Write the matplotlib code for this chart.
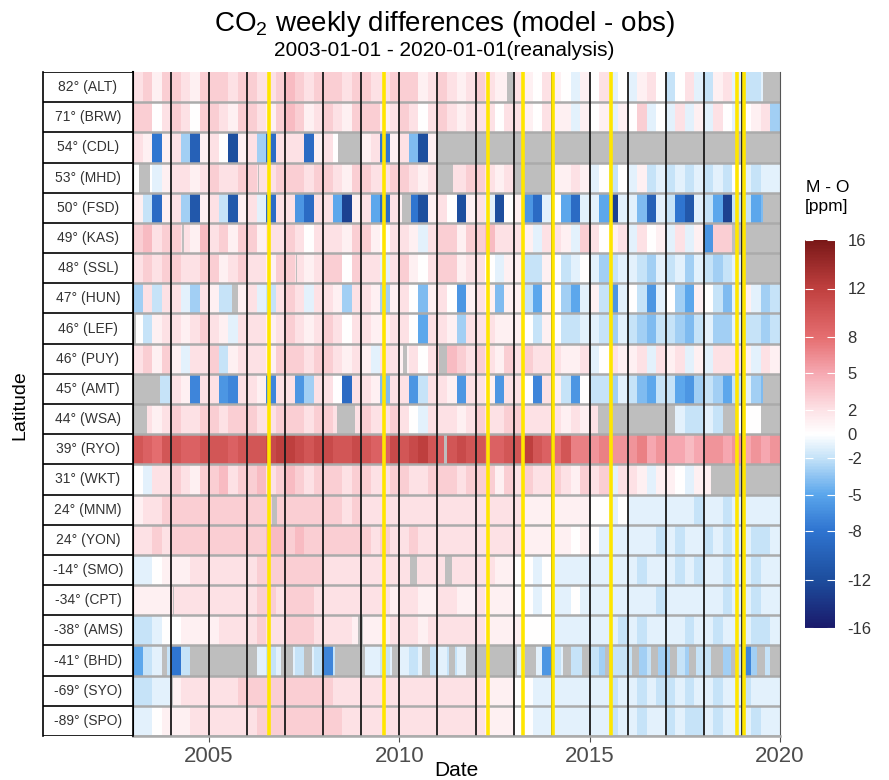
import numpy as np
import matplotlib.pyplot as plt
from matplotlib.colors import LinearSegmentedColormap

plt.rcParams['font.family'] = ['Liberation Sans', 'DejaVu Sans']
plt.rcParams['mathtext.fontset'] = 'custom'
plt.rcParams['mathtext.rm'] = 'Liberation Sans'
plt.rcParams['axes.unicode_minus'] = False

N = None
# quarterly model - obs [ppm], 2003Q1 ... 2019Q4
ALT = [2,3,1,3, 3,2,1,3, 3,3,2,3, 3,2,2,3, 4,3,2,3, 3,3,2,3, 3,2,2,3, 3,3,1,2, 3,2,1,2,
       3,2,1,1, 2,1,0,2, 1,0,-1,1, 0,2,-1,0, -1,1,2,0, -2,0,2,-1, -2,1,2,-1, -2,-2,-1,N]
BRW = [3,3,0,2, 3,2,0,3, 3,2,1,3, 3,2,1,3, 4,3,1,2, 3,2,1,3, 3,3,1,2, 3,2,0,2, 3,2,1,2,
       2,2,0,2, 2,1,0,2, 1,1,-1,1, 0,1,-1,1, 0,3,-1,0, -1,2,-1,1, -1,2,0,-1, 0,1,2,-3]
CDL = [2,1,-8,1, 2,-3,-10,1, 2,0,-12,1, 2,-3,-9,2, 2,2,-9,1, 2,0,N,N, 1,2,-8,1, 2,-4,-12,1, N,N,N,N,
       N,N,N,N, N,N,N,N, N,N,N,N, N,N,N,N, N,N,N,N, N,N,N,N, N,N,N,N, N,N,N,N]
MHD = [0,0,-1,1, 2,2,1,2, 3,2,2,3, 3,2,2,3, 3,3,2,3, 3,2,1,3, 3,2,2,3, 3,2,1,2, N,2,2,3,
       3,2,1,2, 2,N,N,N, 1,1,2,1, -1,0,-2,0, -1,1,-2,-1, -2,-1,-2,-1, -2,-1,-2,0, -1,-2,-1,-1]
FSD = [1,-2,-9,1, 2,-3,-11,1, 2,-2,-11,1, 2,-1,-9,2, 2,-6,-9,2, 2,-5,-13,1, 2,-5,-9,2, 1,-8,-12,1, 2,0,-12,1,
       2,-1,-12,0, 1,-6,-9,-1, 0,-5,-9,-1, -1,-5,-13,-1, -1,-4,-10,-1, -2,-8,-11,-1, -2,-5,-13,-2, -2,-5,-4,N]
KAS = [3,4,2,3, 3,2,1,4, 2,3,1,3, 3,1,2,2, 3,2,0,2, 2,2,1,3, 3,1,0,2, 2,1,-1,2, 3,3,1,3,
       3,4,2,2, 2,1,-1,2, 2,1,-1,3, 2,0,1,2, -1,2,0,1, -1,2,-1,1, -6,3,3,N, N,N,N,N]
SSL = [2,3,2,3, 3,2,2,3, 3,1,2,3, 2,2,1,3, 3,2,1,2, 3,3,0,3, 2,2,-1,2, 3,1,0,2, 3,3,1,2,
       2,0,-1,1, 1,-2,-2,1, 0,-2,-1,0, -1,-3,-2,-1, -1,-2,-3,-1, -2,-1,-3,-1, -2,-3,-2,-1, N,N,N,N]
HUN = [-3,2,-2,2, 2,-1,-3,2, 1,-2,-2,1, 2,-1,-2,2, 3,2,-1,2, 2,1,-3,2, 2,1,-3,1, 2,0,-4,1, 2,0,-6,1,
       2,1,-4,1, 1,-2,-5,1, 0,-3,-5,-1, 1,-2,-6,-1, 0,-2,-6,-1, 0,-3,-5,1, 0,-2,-4,-1, 1,-1,-3,-2]
LEF = [0,-2,1,2, 2,1,2,3, 2,1,-1,2, 2,2,1,2, 3,2,1,2, 3,2,0,2, 2,1,1,2, 2,0,-5,2, 2,1,-3,2,
       2,2,1,1, 1,0,-2,1, 0,-2,-2,-1, -1,-2,-3,-1, -2,-3,-4,-2, -2,-3,-4,-2, -1,-3,-3,-1, -2,-2,-3,-2]
PUY = [2,3,1,3, 1,-1,2,2, 3,-2,1,2, 2,2,1,3, 3,3,2,3, 3,2,1,2, 1,-1,2,2, 1,2,0,2, 3,4,3,2,
       3,2,1,3, 2,3,2,2, 2,1,1,2, -1,0,2,1, 1,2,-1,2, 1,2,-1,1, -1,2,2,2, 1,-1,2,1]
AMT = [N,N,-2,-2, 2,1,-7,2, 2,-6,-7,2, 2,1,-7,2, 2,-6,-3,2, 2,0,-9,2, 2,1,-4,2, 2,-6,-2,2, 2,1,-6,2,
       2,1,-6,2, 2,0,-7,2, 1,-2,-6,0, -2,-2,-3,-1, -2,-4,-5,-2, -2,-5,-6,-3, -2,-3,-5,-2, -1,-3,-4,N]
WSA = [N,2,1,2, 3,2,2,3, 3,2,3,3, 3,2,2,3, 3,3,2,3, 3,2,N,2, 3,2,2,3, 2,0,-1,2, 2,2,1,2,
       3,2,2,3, 3,2,2,2, 2,1,2,1, 2,N,N,N, N,N,N,N, N,-1,-2,-2, -1,-2,N,0, 0,0,N,N]
RYO = [10,9,8,10, 10,9,9,10, 10,10,9,10, 10,10,11,12, 12,11,10,11, 11,10,10,11, 10,9,9,11, 10,11,12,10, 9,10,11,10,
       10,9,9,10, 10,12,10,9, 8,10,7,7, 6,7,6,6, 6,7,5,6, 5,5,4,5, 6,6,5,6, 5,6,5,6]
WKT = [0,-1,2,2, 3,2,1,3, 3,4,2,3, 3,4,2,3, 4,3,2,3, 3,3,2,3, 3,2,2,3, 3,2,2,3, 3,3,2,3,
       3,3,1,3, 2,3,2,2, 3,2,1,3, 2,3,-1,2, 2,1,-1,1, 1,0,-1,1, 1,N,N,N, N,N,N,N]
MNM = [1,2,2,3, 3,3,3,3, 3,3,3,3, 3,3,3,3, 3,3,3,3, 3,3,2,3, 2,2,2,2, 2,2,2,2, 2,2,2,2,
       2,2,2,2, 2,1,1,1, 1,1,1,1, 0,0,-1,0, -1,-1,-1,-1, -1,-1,-1,-2, -1,-1,-2,-1, -1,-1,-1,-1]
YON = [2,2,3,2, 3,3,3,3, 3,3,3,3, 3,3,4,4, 3,4,3,3, 3,3,3,3, 3,2,3,2, 2,3,2,2, 2,2,2,2,
       2,2,2,2, 2,1,1,1, 1,1,0,1, 0,-1,-1,-1, -1,-1,-1,-2, -1,-2,-1,-1, -2,-1,-2,-1, -1,-2,-2,-1]
SMO = [-1,-1,0,1, 1,1,2,2, 2,2,2,2, 2,3,3,3, 3,3,3,3, 2,2,2,2, 2,2,2,2, 2,2,2,2, 2,2,2,2,
       2,2,1,1, 0,0,-1,0, -1,-1,-1,-1, -1,-1,-1,-1, -1,-2,-1,-1, -1,-2,-1,-2, -1,-1,-2,-1, -1,-2,-1,-1]
CPT = [1,1,1,1, 2,2,2,2, 2,2,2,2, 2,3,3,2, 3,3,3,2, 2,2,2,2, 2,2,2,1, 2,2,1,1, 2,2,1,1,
       2,1,1,1, 0,0,-1,0, -1,-1,0,-1, -1,-1,-1,-1, -1,-1,-1,-2, -1,-1,-1,-1, -1,-1,-2,-1, -1,-2,-1,-1]
AMS = [-2,-2,-1,0, 0,1,1,1, 1,2,2,2, 2,3,2,2, 3,3,3,2, 2,2,2,1, 1,1,1,2, 2,2,1,2, 2,2,2,2,
       2,1,1,1, 1,0,0,0, -1,-1,-1,-1, -1,-1,-1,-2, -1,-2,-1,-1, -1,-1,-2,-1, -1,-2,-1,-1, -1,-2,-2,-1]
BHD = [-5,-2,-1,-2, -8,-2,-1,N, N,N,N,N, N,-1,-2,-1, -1,-2,-1,-2, -7,-2,N,N, -1,-1,-2,-1, -1,-2,-1,-2, -1,-2,-1,-2,
       N,N,N,N, -1,-2,-1,-6, -2,-1,-2,-2, -2,-3,-2,-2, -2,-3,-2,-3, -3,-2,-3,-2, -2,-3,-3,-2, -7,-3,-2,-3]
SYO = [-2,-2,-1,-1, 1,2,2,2, 2,2,2,3, 3,3,3,3, 3,3,3,3, 3,2,2,2, 2,2,2,2, 2,2,2,2, 2,2,2,2,
       2,1,1,1, 0,0,-1,-1, -1,-1,-1,-1, -1,-1,-2,-1, -1,-2,-1,-2, -2,-1,-2,-1, -1,-2,-1,-1, -2,-1,-1,-1]
SPO = [-1,-1,0,1, 1,1,2,2, 2,2,2,2, 2,3,3,3, 3,3,3,3, 3,3,2,2, 2,2,2,2, 2,2,2,2, 2,2,2,2,
       2,1,1,1, 0,0,-1,-1, -1,-1,-1,-1, -1,-1,-2,-1, -1,-2,-1,-1, -2,-1,-2,-2, -1,-2,-1,-1, -1,-2,-1,-1]

stations = ['ALT', 'BRW', 'CDL', 'MHD', 'FSD', 'KAS', 'SSL', 'HUN', 'LEF', 'PUY', 'AMT',
            'WSA', 'RYO', 'WKT', 'MNM', 'YON', 'SMO', 'CPT', 'AMS', 'BHD', 'SYO', 'SPO']
lats = [82, 71, 54, 53, 50, 49, 48, 47, 46, 46, 45, 44, 39, 31, 24, 24, -14, -34, -38, -41, -69, -89]
rows = [ALT, BRW, CDL, MHD, FSD, KAS, SSL, HUN, LEF, PUY, AMT,
        WSA, RYO, WKT, MNM, YON, SMO, CPT, AMS, BHD, SYO, SPO]

# shorter missing-data stretches (decimal years)
gaps = {
    'ALT': [(2012.83, 2012.98), (2019.55, 2019.75)],
    'CDL': [(2008.38, 2008.5)],
    'MHD': [(2003.17, 2003.45), (2006.28, 2006.32), (2011.25, 2011.4), (2013.05, 2013.25), (2014.0, 2014.1)],
    'FSD': [(2010.07, 2010.3), (2019.55, 2019.75)],
    'KAS': [(2004.3, 2004.33)],
    'SSL': [(2007.28, 2007.31)],
    'HUN': [(2005.6, 2005.76)],
    'LEF': [(2003.0, 2003.08)],
    'PUY': [(2010.1, 2010.2), (2011.03, 2011.25)],
    'AMT': [(2003.5, 2003.7), (2019.55, 2019.75)],
    'WSA': [(2003.25, 2003.38), (2008.37, 2008.5), (2008.75, 2008.83), (2015.23, 2015.25), (2018.75, 2018.9)],
    'RYO': [(2011.18, 2011.24)],
    'WKT': [(2018.2, 2018.25)],
    'MNM': [(2006.65, 2006.78)],
    'SMO': [(2010.28, 2010.45), (2011.2, 2011.38)],
    'CPT': [(2004.05, 2004.08)],
    'AMS': [(2008.9, 2009.05)],
    'BHD': [(2003.75, 2003.9), (2004.5, 2004.75), (2006.0, 2006.2), (2006.9, 2007.2), (2007.5, 2007.7),
            (2008.3, 2008.5), (2009.0, 2009.1), (2009.8, 2010.0), (2010.6, 2010.8), (2011.3, 2011.45),
            (2011.75, 2012.0), (2013.0, 2013.1), (2013.3, 2013.6), (2014.3, 2014.5), (2014.8, 2015.0),
            (2015.4, 2015.6), (2016.1, 2016.3), (2016.6, 2016.8), (2017.1, 2017.3), (2017.6, 2017.8),
            (2018.2, 2018.5), (2018.7, 2018.9), (2019.4, 2019.6), (2019.75, 2020.0)],
    'SYO': [(2004.03, 2004.06)],
}

yellow_dates = [2006.57, 2009.6, 2012.33, 2013.25, 2014.03, 2015.56, 2018.88, 2019.05]

cb_ticks = [16, 12, 8, 5, 2, 0, -2, -5, -8, -12, -16]
cb_colors = ['#1a1a6b', '#1d4e9e', '#2f74d0', '#5aa6ec', '#c4e2f8', '#ffffff',
             '#fde2e6', '#f6a9b2', '#e56e70', '#c0403f', '#7a1818']

cmap = LinearSegmentedColormap.from_list(
    'mo', [((v + 16) / 32, c) for v, c in zip(sorted(cb_ticks), cb_colors)])
cmap.set_bad('#bebebe')

fig = plt.figure(figsize=(8.89, 7.8), dpi=100)
W, H = 889, 780
ax = fig.add_axes([133 / W, 1 - 736 / H, 647 / W, 664 / H])

Z = np.array(rows, dtype=float)
xe = 2003 + np.arange(Z.shape[1] + 1) / 4
ye = np.arange(len(stations) + 1)
mesh = ax.pcolormesh(xe, ye, np.ma.masked_invalid(Z), cmap=cmap, vmin=-16, vmax=16)

for i, s in enumerate(stations):
    for a, b in gaps.get(s, []):
        ax.broken_barh([(a, b - a)], (i, 1), color='#bebebe', lw=0)

for y in range(1, len(stations) + 1):
    ax.axhline(y, color='#ababab', lw=1.8)
for yr in range(2004, 2020):
    ax.axvline(yr, color='#1a1a1a', lw=1.3)
for d in yellow_dates:
    ax.axvline(d, color='#ffe600', lw=2.6)

ax.set_xlim(2003, 2020)
ax.set_ylim(len(stations), 0)
ax.set_yticks([])
ax.set_xticks([2005, 2010, 2015, 2020])
ax.tick_params(axis='x', labelsize=16, labelcolor='#4d4d4d', color='#4d4d4d', length=4, pad=3)
ax.spines['top'].set_visible(False)
ax.spines['left'].set_color('black')
ax.spines['left'].set_linewidth(1.5)
ax.spines['right'].set_color('#555555')
ax.spines['bottom'].set_color('#ababab')
ax.spines['bottom'].set_linewidth(1.8)

# station label column
lax = fig.add_axes([43 / W, 1 - 736 / H, 90 / W, 664 / H])
lax.set_xlim(0, 1)
lax.set_ylim(len(stations), 0)
for i, (lat, s) in enumerate(zip(lats, stations)):
    lax.text(0.5, i + 0.5, f'{lat}° ({s})', ha='center', va='center', fontsize=10, color='#333333')
for y in range(len(stations) + 1):
    lax.axhline(y, color='black', lw=1.2)
lax.set_xticks([])
lax.set_yticks([])
for side in ['top', 'bottom']:
    lax.spines[side].set_visible(False)
for side in ['left', 'right']:
    lax.spines[side].set_color('black')
    lax.spines[side].set_linewidth(1.2)

fig.text(20 / W, 1 - 405 / H, 'Latitude', rotation=90, ha='center', va='center', fontsize=14)
fig.text(456 / W, 1 - 770 / H, 'Date', ha='center', va='center', fontsize=15)
fig.text(0.5, 1 - 24 / H, 'CO$_2$ weekly differences (model - obs)', ha='center', va='center', fontsize=20)
fig.text(0.5, 1 - 51 / H, '2003-01-01 - 2020-01-01(reanalysis)', ha='center', va='center', fontsize=15)

# colour bar
cax = fig.add_axes([805 / W, 1 - 628 / H, 30 / W, 388 / H])
cb = fig.colorbar(mesh, cax=cax, ticks=cb_ticks)
cb.outline.set_visible(False)
cax.tick_params(direction='in', color='white', length=6, width=0.8, left=True, right=True,
                labelsize=12, labelcolor='#333333', pad=9)
fig.text(806 / W, 1 - 188 / H, 'M - O', ha='left', va='center', fontsize=12.5)
fig.text(805 / W, 1 - 206 / H, '[ppm]', ha='left', va='center', fontsize=12.5)

fig.savefig('out.png', dpi=100)
